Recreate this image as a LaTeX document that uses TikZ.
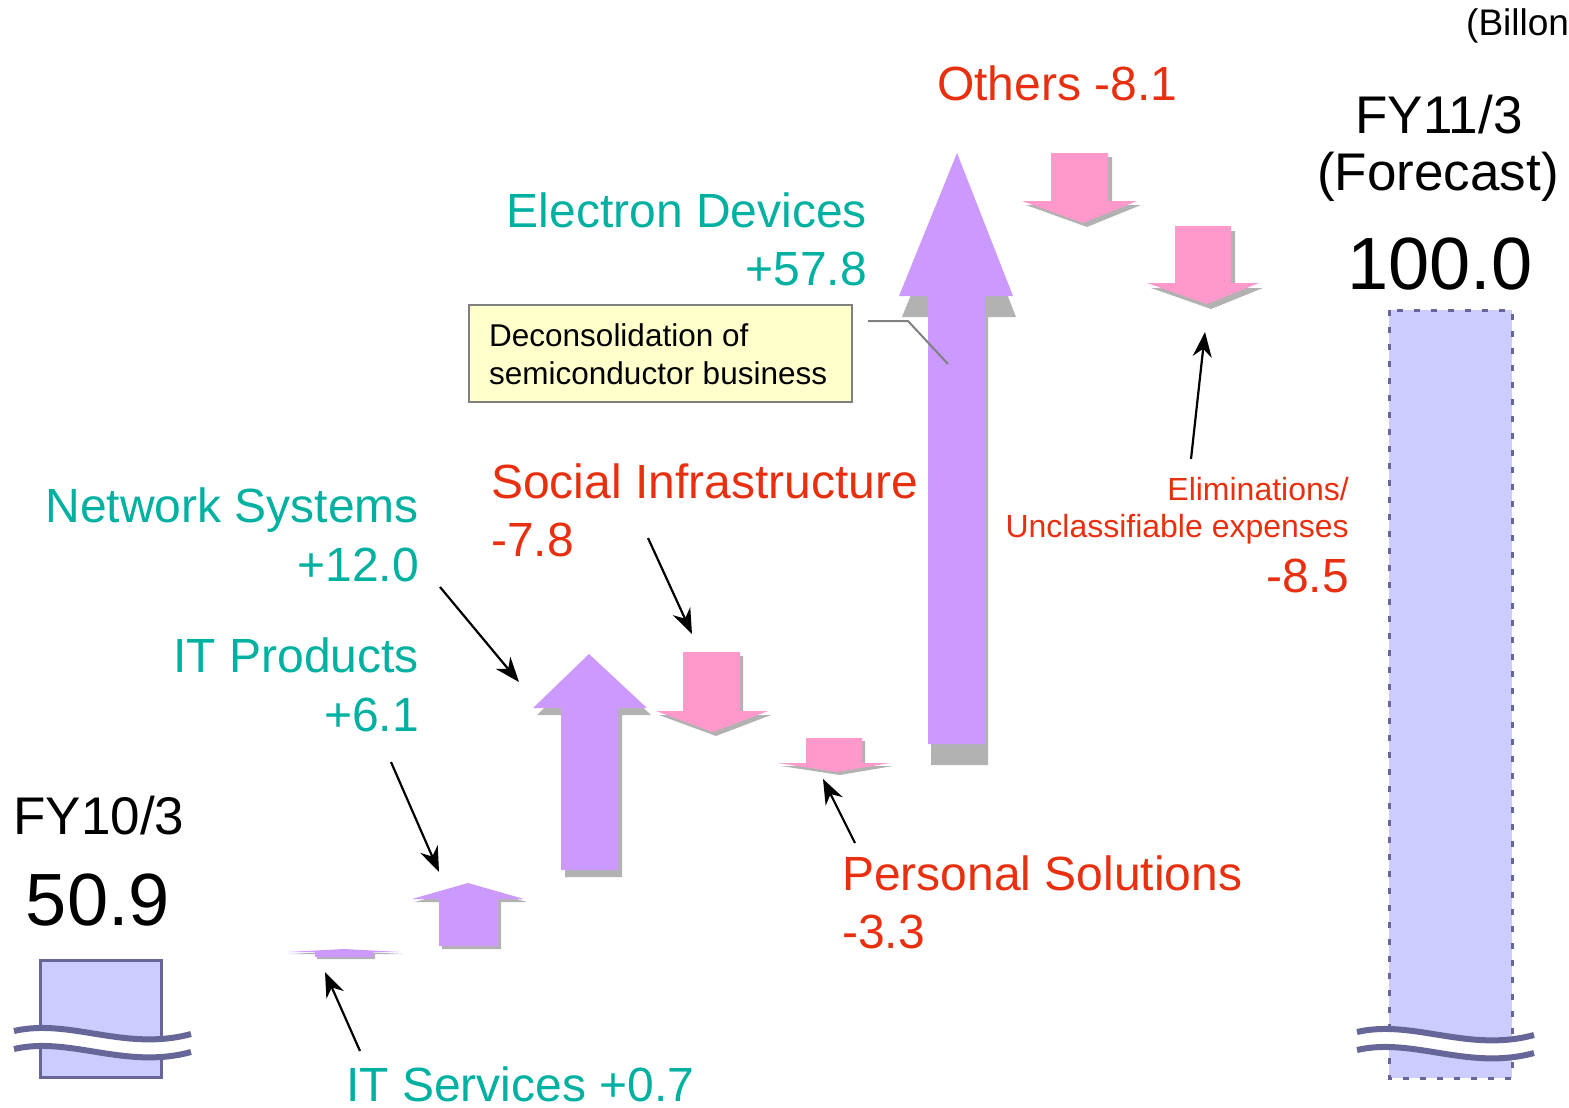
\documentclass[tikz,border=0pt]{standalone}
\usepackage{fontspec}
\setmainfont{Liberation Sans}
\usetikzlibrary{arrows.meta}

\definecolor{upfill}{RGB}{204,153,255}
\definecolor{downfill}{RGB}{255,153,204}
\definecolor{shadegray}{RGB}{178,178,178}
\definecolor{barfill}{RGB}{204,204,255}
\definecolor{barline}{RGB}{102,102,153}
\definecolor{gaintext}{RGB}{0,176,160}
\definecolor{losstext}{RGB}{232,48,16}
\definecolor{notefill}{RGB}{255,255,204}
\definecolor{noteline}{RGB}{128,128,128}

% offset of the drop shadow of the next block arrow
\newcommand\setshadow[2]{\def\sdx{#1}\def\sdy{#2}}
% block arrow: colour, body x1, body x2, body end y, head base y, head left, head right, tip x, tip y
\newcommand\blockarrow[9]{%
  \fill[shadegray,shift={(\sdx,\sdy)}] (#2,#4) -- (#2,#5) -- (#6,#5) -- (#8,#9) -- (#7,#5) -- (#3,#5) -- (#3,#4) -- cycle;
  \fill[#1] (#2,#4) -- (#2,#5) -- (#6,#5) -- (#8,#9) -- (#7,#5) -- (#3,#5) -- (#3,#4) -- cycle;}
% axis break mark across a bar
\newcommand\breakwave[2]{%
  \begin{scope}[shift={(#1,#2)}]
    \draw[white, line width=13pt] (14,1040) .. controls (70,1027) and (125,1061) .. (191,1043);
    \draw[barline, line width=6pt] (14,1031) .. controls (70,1018) and (125,1052) .. (191,1034);
    \draw[barline, line width=6pt] (14,1049) .. controls (70,1036) and (125,1070) .. (191,1052);
  \end{scope}}

\tikzset{
  lbl/.style={inner sep=0pt, font=\fontsize{48}{56}\selectfont},
  gain/.style={lbl, text=gaintext},
  loss/.style={lbl, text=losstext},
  smallloss/.style={inner sep=0pt, text=losstext, font=\fontsize{32}{38}\selectfont},
  fylbl/.style={inner sep=0pt, font=\fontsize{53}{62}\selectfont},
  bignum/.style={inner sep=0pt, font=\fontsize{74}{84}\selectfont},
  notetxt/.style={inner sep=0pt, font=\fontsize{31.5}{38}\selectfont},
  pointer/.style={draw=black, line width=2.2pt, -{Stealth[length=25pt,width=19pt]}},
}

\begin{document}
\begin{tikzpicture}[x=1pt,y=-1pt]
\useasboundingbox (0,0) rectangle (1569,1108);

% unit note
\node[inner sep=0pt, anchor=base west, font=\fontsize{37}{42}\selectfont] (unit) at (1466,36) {(Billon};

% starting bar
\draw[barline, fill=barfill, line width=3pt] (40,960) rectangle (161,1077);
\breakwave{0}{0}
\node[fylbl, anchor=base] (fy10) at (99,834) {FY10/3};
\node[bignum, anchor=base] (v10) at (98,925) {50.9};

% forecast bar
\fill[barfill] (1389,310) rectangle (1512,1078);
\draw[barline, line width=3pt, dash pattern=on 6pt off 11pt] (1389,310) rectangle (1512,1078);
\breakwave{1343}{1}
\node[fylbl, anchor=base] (fy11) at (1439,133) {FY11/3};
\node[fylbl, anchor=base] (fc) at (1438,190) {(Forecast)};
\node[bignum, anchor=base] (v11) at (1440,289) {100.0};

% segment changes
\setshadow{2}{2}\blockarrow{upfill}{315}{373}{957}{952}{287}{401}{344}{949}
\setshadow{3}{3}\blockarrow{upfill}{439}{498}{946}{899}{412}{524}{468}{883}
\setshadow{4}{7}\blockarrow{upfill}{561}{618}{870}{708}{533}{647}{589}{654}
\setshadow{3}{4}\blockarrow{downfill}{683}{740}{652}{711}{656}{768}{713}{732}
\setshadow{3}{3}\blockarrow{downfill}{806}{862}{738}{763}{778}{890}{837}{772}
\setshadow{3}{21}\blockarrow{upfill}{928}{985}{744}{296}{899}{1013}{957}{153}
\setshadow{4}{4}\blockarrow{downfill}{1051}{1108}{153}{201}{1022}{1137}{1083}{223}
\setshadow{4}{5}\blockarrow{downfill}{1175}{1231}{226}{283}{1147}{1259}{1207}{304}

% labels
\node[gain, anchor=base west] (its) at (346,1101) {IT Services +0.7};
\node[gain, anchor=base east] (itp1) at (419,672) {IT Products};
\node[gain, anchor=base east] (itp2) at (419,731) {+6.1};
\node[gain, anchor=base east] (ns1) at (419,522) {Network Systems};
\node[gain, anchor=base east] (ns2) at (419,581) {+12.0};
\node[loss, anchor=base west] (si1) at (491,498) {Social Infrastructure};
\node[loss, anchor=base west] (si2) at (491,556) {-7.8};
\node[loss, anchor=base west] (ps1) at (842,890) {Personal Solutions};
\node[loss, anchor=base west] (ps2) at (842,948) {-3.3};
\node[gain, anchor=base east] (ed1) at (867,227) {Electron Devices};
\node[gain, anchor=base east] (ed2) at (867,285) {+57.8};
\node[loss, anchor=base west] (oth) at (937,100) {Others -8.1};
\node[smallloss, anchor=base east] (el1) at (1349,500) {Eliminations/};
\node[smallloss, anchor=base east] (el2) at (1349,537) {Unclassifiable expenses};
\node[loss, anchor=base east] (el3) at (1349,592) {-8.5};

% callout
\draw[noteline, fill=notefill, line width=1.5pt] (469,305) rectangle (852,402);
\node[notetxt, anchor=base west] (note1) at (489,346) {Deconsolidation of};
\node[notetxt, anchor=base west] (note2) at (489,384) {semiconductor business};
\coordinate (lead0) at (868,321);
\coordinate (lead1) at (908,321);
\coordinate (lead2) at (948,364);
\draw[noteline, line width=2pt] (lead0) -- (lead1) -- (lead2);

% pointers from labels to their arrows
\coordinate (p1s) at (360,1051); \coordinate (p1e) at (325,972);
\coordinate (p2s) at (391,762);  \coordinate (p2e) at (439,872);
\coordinate (p3s) at (440,587);  \coordinate (p3e) at (519,682);
\coordinate (p4s) at (648,538);  \coordinate (p4e) at (692,634);
\coordinate (p5s) at (855,843);  \coordinate (p5e) at (823,779);
\coordinate (p6s) at (1191,459); \coordinate (p6e) at (1205,332);
\draw[pointer] (p1s) -- (p1e);
\draw[pointer] (p2s) -- (p2e);
\draw[pointer] (p3s) -- (p3e);
\draw[pointer] (p4s) -- (p4e);
\draw[pointer] (p5s) -- (p5e);
\draw[pointer] (p6s) -- (p6e);
\end{tikzpicture}
\end{document}
